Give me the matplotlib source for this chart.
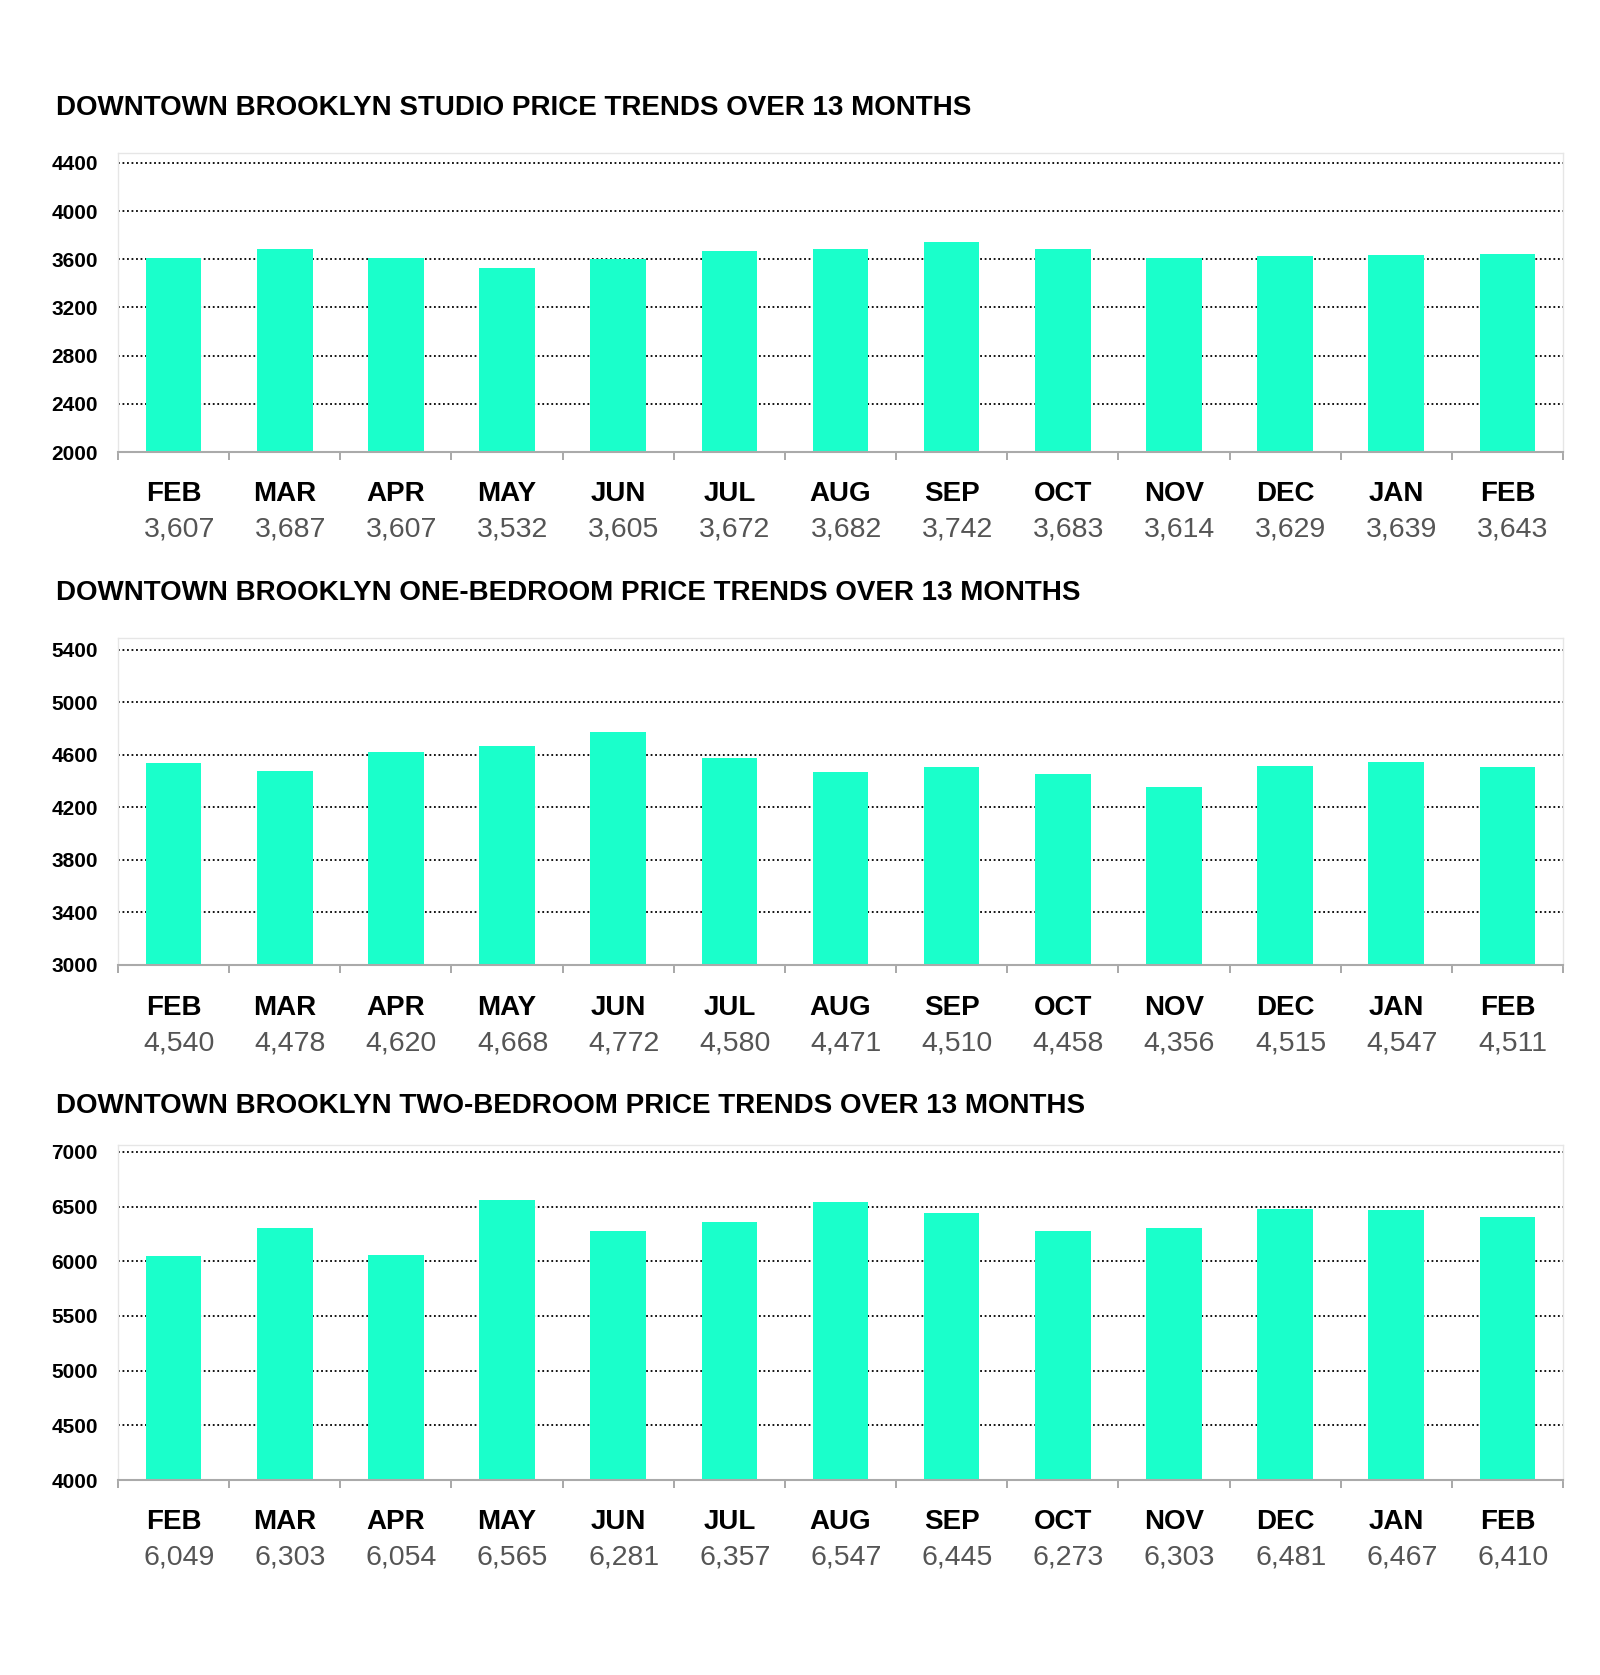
import matplotlib
matplotlib.use("Agg")
import matplotlib.pyplot as plt
from matplotlib.transforms import blended_transform_factory

months = ["FEB", "MAR", "APR", "MAY", "JUN", "JUL", "AUG", "SEP", "OCT", "NOV", "DEC", "JAN", "FEB"]

studio = [3607, 3687, 3607, 3532, 3605, 3672, 3682, 3742, 3683, 3614, 3629, 3639, 3643]
one_bed = [4540, 4478, 4620, 4668, 4772, 4580, 4471, 4510, 4458, 4356, 4515, 4547, 4511]
two_bed = [6049, 6303, 6054, 6565, 6281, 6357, 6547, 6445, 6273, 6303, 6481, 6467, 6410]

titles = [
    "DOWNTOWN BROOKLYN STUDIO PRICE TRENDS OVER 13 MONTHS",
    "DOWNTOWN BROOKLYN ONE-BEDROOM PRICE TRENDS OVER 13 MONTHS",
    "DOWNTOWN BROOKLYN TWO-BEDROOM PRICE TRENDS OVER 13 MONTHS",
]
yticks_list = [
    [2000, 2400, 2800, 3200, 3600, 4000, 4400],
    [3000, 3400, 3800, 4200, 4600, 5000, 5400],
    [4000, 4500, 5000, 5500, 6000, 6500, 7000],
]
ylims = [(2000, 4483), (3000, 5491), (4000, 7064)]

W, H = 1600, 1675
# pixel layout: (axes top, axes bottom, title y, month label y, value y)
layout = [
    (153, 452, 108, 494, 529),
    (638, 965, 593, 1008, 1043),
    (1145, 1480, 1106, 1522, 1557),
]
left_px, right_px = 118, 1563

bar_color = "#1AFFCB"
plt.rcParams["font.family"] = ["Liberation Sans", "DejaVu Sans"]

fig = plt.figure(figsize=(16, 16.75), dpi=100)
fig.patch.set_facecolor("white")

for data, title, yt, yl, (top, bot, ty, my, vy) in zip(
        [studio, one_bed, two_bed], titles, yticks_list, ylims, layout):
    ax = fig.add_axes([left_px / W, 1 - bot / H, (right_px - left_px) / W, (bot - top) / H])
    x = list(range(len(months)))
    ax.bar(x, data, width=0.5, color=bar_color, zorder=3)
    ax.set_xlim(-0.5, len(months) - 0.5)
    ax.set_ylim(*yl)
    ax.set_yticks(yt)
    ax.set_yticklabels([str(v) for v in yt], fontsize=15, fontweight="bold")
    ax.set_xticks([i - 0.5 for i in range(len(months) + 1)])
    ax.set_xticklabels([])
    ax.tick_params(axis="x", length=6, color="#999999", width=1.2, direction="out")
    ax.tick_params(axis="y", length=0, pad=14.5)
    for v in yt[1:]:
        ax.axhline(v, color="black", linestyle=(0, (1, 1.5)), linewidth=1.3, zorder=2)
    for side in ["top", "left", "right"]:
        ax.spines[side].set_color("#e6e6e6")
        ax.spines[side].set_linewidth(1)
    ax.spines["bottom"].set_color("#aaaaaa")
    ax.spines["bottom"].set_linewidth(1.5)
    ax.spines["bottom"].set_zorder(4)

    fig.text(56 / W, 1 - ty / H, title, fontsize=20, fontweight="bold",
             ha="left", va="center", color="black")
    tr = blended_transform_factory(ax.transData, fig.transFigure)
    for i, (m, v) in enumerate(zip(months, data)):
        ax.text(i, 1 - my / H, m, transform=tr, ha="center", va="center",
                fontsize=20, fontweight="bold", color="black")
        ax.text(i + 0.05, 1 - vy / H, f"{v:,}", transform=tr, ha="center", va="center",
                fontsize=20.5, color="#555555")

fig.savefig("out.png", dpi=100, facecolor="white")
